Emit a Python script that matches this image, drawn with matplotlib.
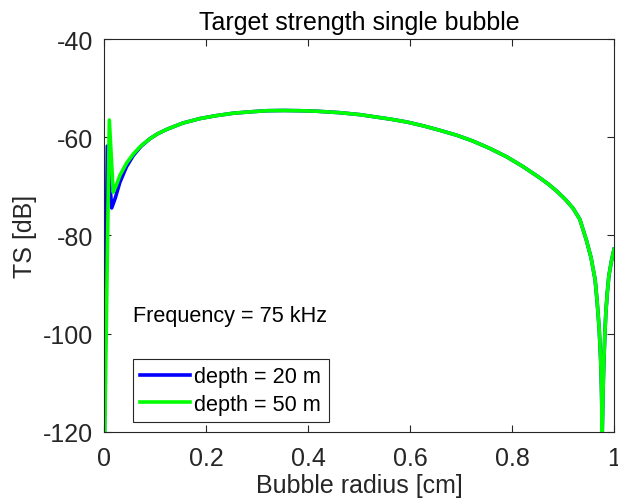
"""
plot.py
Target strength of a single gas bubble vs. radius (75 kHz), two depths
"""

import matplotlib
matplotlib.use('Agg')
import matplotlib.pyplot as plt

# -------------------------------
# DATA
# -------------------------------

# start of the curve, different per depth (resonance region)
head_r_20  = [0.0008, 0.0065, 0.015, 0.022, 0.031, 0.044, 0.0575, 0.073]
head_ts_20 = [-120.0, -61.8, -74.4, -72.4, -69.2, -66.0, -63.7, -61.8]

head_r_50  = [0.0015, 0.0104, 0.018, 0.024, 0.031, 0.044, 0.0575, 0.073]
head_ts_50 = [-120.0, -56.5, -71.2, -69.8, -67.8, -65.3, -63.4, -61.7]

# rest of the curve, both depths lie on top of each other
main_r  = [0.090, 0.105, 0.123, 0.140, 0.155, 0.188, 0.22, 0.254, 0.29,
           0.319, 0.352, 0.385, 0.417, 0.463, 0.502, 0.528, 0.561, 0.594,
           0.627, 0.659, 0.692, 0.724, 0.757, 0.790, 0.822, 0.855, 0.872,
           0.888, 0.905, 0.920, 0.933, 0.946, 0.955, 0.963, 0.967, 0.971,
           0.974, 0.9755, 0.977, 0.9785, 0.980, 0.982, 0.984, 0.987, 0.990,
           0.995, 1.0]
main_ts = [-60.3, -59.3, -58.4, -57.7, -57.1, -56.2, -55.6, -55.1, -54.8,
           -54.6, -54.55, -54.6, -54.7, -55.0, -55.4, -55.8, -56.3, -56.9,
           -57.7, -58.6, -59.6, -60.8, -62.3, -64.0, -66.0, -68.3, -69.6,
           -71.0, -72.7, -74.5, -76.7, -81.0, -84.5, -89.0, -93.5, -99.0,
           -105.5, -111.0, -120.0, -112.0, -106.0, -100.5, -95.7, -91.5, -88.2,
           -85.2, -82.8]

depth_labels = ['depth = 20 m', 'depth = 50 m']
x_ticks = [0, 0.2, 0.4, 0.6, 0.8, 1]
x_tick_labels = ['0', '0.2', '0.4', '0.6', '0.8', '1']
y_ticks = [-120, -100, -80, -60, -40]

# -------------------------------
# PLOT
# -------------------------------

plt.rcParams['font.family'] = ['Liberation Sans', 'DejaVu Sans']
plt.rcParams['axes.unicode_minus'] = False
TXT = '#262626'

fig = plt.figure(figsize=(6.18, 5.02), dpi=100)
ax = fig.add_axes([0.1683, 0.1375, 0.8252, 0.7828])

ax.plot(head_r_20 + main_r, head_ts_20 + main_ts, color='#0000ff',
        linewidth=2.6, label=depth_labels[0])
ax.plot(head_r_50 + main_r, head_ts_50 + main_ts, color='#00ff00',
        linewidth=2.6, label=depth_labels[1])

ax.set_xlim(0, 1)
ax.set_ylim(-120, -40)
ax.set_xticks(x_ticks)
ax.set_xticklabels(x_tick_labels)
ax.set_yticks(y_ticks)

ax.tick_params(direction='in', length=5, width=0.8, colors=TXT,
               labelsize=18, top=True, right=True)
ax.tick_params(axis='x', pad=10)
ax.tick_params(axis='y', pad=8)
for sp in ax.spines.values():
    sp.set_color('#262626')
    sp.set_linewidth(0.8)

ax.set_title('Target strength single bubble', fontsize=18, color='black', pad=7)
ax.set_xlabel('Bubble radius [cm]', fontsize=18, color=TXT, labelpad=2)
ax.set_ylabel('TS [dB]', fontsize=18, color=TXT, labelpad=4)

ax.text(0.056, -96.2, 'Frequency = 75 kHz', fontsize=15.6, color='black',
        va='center', ha='left')

leg = ax.legend(loc='lower left', bbox_to_anchor=(0.0563, 0.0247),
                borderaxespad=0, fontsize=15.6, handlelength=2.3,
                handletextpad=0.2, labelspacing=0.3, borderpad=0.35,
                fancybox=False, framealpha=1, edgecolor='#262626')
leg.get_frame().set_linewidth(0.8)

fig.savefig('out.png', dpi=100)
plt.close(fig)
